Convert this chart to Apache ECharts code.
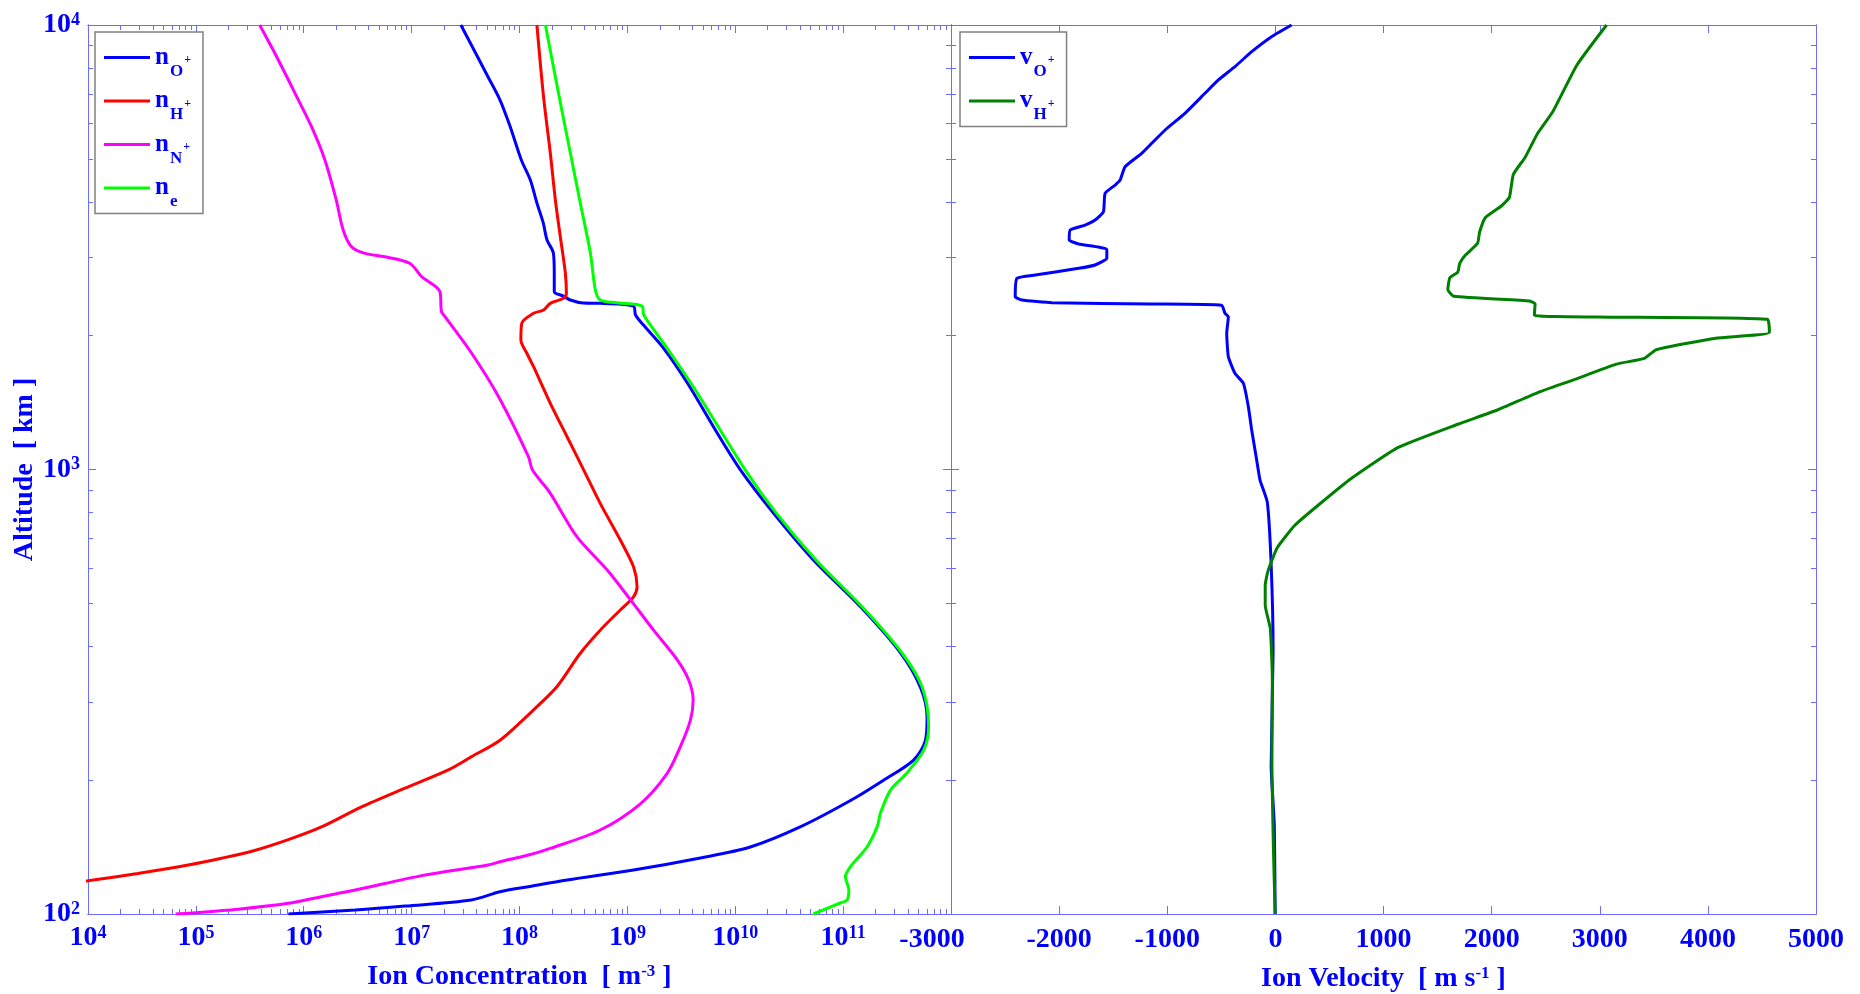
<!DOCTYPE html>
<html>
<head>
<meta charset="utf-8">
<script src="https://cdn.jsdelivr.net/npm/echarts/dist/echarts.min.js"></script>
<style>
  html, body { margin: 0; padding: 0; background: #ffffff; }
  #chart { width: 1860px; height: 994px; }
</style>
</head>
<body>
<div id="chart"></div>
<script>
// ---- Ion density profiles: [altitude km, concentration m^-3] ----
const nOplus = [
  [10000, 2.86e7], [7650, 5.1e7], [6780, 6.6e7], [5905, 8.2e7], [4970, 1.04e8], [4480, 1.26e8],
  [3978, 1.45e8], [3586, 1.66e8], [3283, 1.8e8], [3069, 2.06e8], [2767, 2.1e8], [2512, 2.1e8],
  [2457, 2.55e8], [2406, 2.96e8], [2369, 3.9e8], [2365, 5.6e8], [2332, 1.14e9], [2226, 1.19e9],
  [2113, 1.41e9], [1876, 2.16e9], [1565, 3.6e9], [1208, 6.8e9], [997, 1.12e10], [798, 2.26e10],
  [626, 5.3e10], [491, 1.45e11], [387, 3.4e11], [324, 5.2e11], [277, 6.0e11], [246, 5.8e11],
  [222, 4.5e11], [200, 2.37e11], [180, 1.17e11], [157, 4.0e10], [141.5, 1.38e10], [133.7, 4.75e9],
  [125.6, 1.14e9], [119.3, 2.77e8], [115.2, 1.21e8], [112.2, 6.6e7], [107.5, 3.57e7],
  [104.2, 8.7e6], [102.1, 3.0e6], [100, 7.2e5]
];
const nHplus = [
  [10000, 1.45e8], [6898, 1.67e8], [5152, 1.93e8], [4040, 2.15e8], [3340, 2.39e8], [2767, 2.66e8],
  [2491, 2.72e8], [2427, 2.56e8], [2365, 1.93e8], [2285, 1.67e8], [2246, 1.35e8], [2133, 1.05e8],
  [1956, 1.03e8], [1826, 1.17e8], [1703, 1.35e8], [1409, 1.93e8], [1185, 2.76e8], [997, 3.94e8],
  [839, 5.6e8], [694, 8.6e8], [604, 1.14e9], [545, 1.23e9], [517, 1.14e9], [483, 8.6e8],
  [435, 5.6e8], [386, 3.66e8], [325, 2.23e8], [288, 1.35e8], [246, 6.6e7], [226, 3.6e7],
  [211, 2.19e7], [192, 8.7e6], [174, 3.4e6], [157, 1.46e6], [147, 7.2e5], [139, 3.5e5],
  [133.5, 1.73e5], [128.9, 8.5e4], [123.4, 2.9e4], [118.8, 1.0e4], [117, 6.0e3]
];
const nNplus = [
  [10000, 3.9e5], [8636, 5.4e5], [7020, 8.3e5], [5905, 1.18e6], [4970, 1.57e6], [4040, 2.0e6],
  [3458, 2.32e6], [3171, 2.77e6], [3064, 3.7e6], [3010, 5.65e6], [2910, 9.6e6], [2715, 1.24e7],
  [2512, 1.83e7], [2265, 1.89e7], [2207, 2.04e7], [1826, 3.6e7], [1458, 6.4e7], [1069, 1.21e8],
  [997, 1.32e8], [884, 1.93e8], [706, 3.4e8], [594, 6.5e8], [509, 1.07e9], [435, 1.75e9],
  [373, 2.9e9], [336, 3.7e9], [303, 4.07e9], [273, 3.84e9], [238, 3.1e9], [207, 2.33e9],
  [177, 1.32e9], [154.5, 5.6e8], [140.5, 1.93e8], [135.7, 1.21e8], [131.1, 6.6e7], [128.9, 5.1e7],
  [122, 1.24e7], [113.2, 3.0e6], [109.4, 1.46e6], [105.7, 7.2e5], [102.5, 2.46e5],
  [100.4, 8.5e4], [100, 6.5e4]
];
const nElec = [
  [10000, 1.74e8], [7020, 2.3e8], [5152, 2.96e8], [3978, 3.66e8], [3069, 4.54e8], [2534, 5.05e8],
  [2406, 5.6e8], [2373, 8.0e8], [2332, 1.37e9], [2226, 1.42e9], [1876, 2.33e9], [1533, 4.1e9],
  [997, 1.24e10], [798, 2.4e10], [626, 5.6e10], [491, 1.5e11], [387, 3.5e11], [324, 5.4e11],
  [264, 6.2e11], [234, 5.6e11], [207.6, 3.9e11], [190, 2.75e11], [168.7, 2.22e11],
  [157.2, 2.07e11], [141.7, 1.67e11], [127.8, 1.17e11], [121.3, 1.05e11], [113.2, 1.13e11],
  [107.5, 1.09e11], [106, 9.5e10], [100, 5.3e10]
];

// ---- Ion velocity profiles: [altitude km, velocity m/s] ----
const vOplus = [
  [10000, 150], [9412, -35], [8709, -219], [8058, -374], [7522, -527], [7020, -651], [6328, -836],
  [5805, -1020], [5418, -1143], [5145, -1236], [4800, -1390], [4480, -1436], [4365, -1482],
  [4182, -1575], [3802, -1590], [3641, -1667], [3548, -1759], [3458, -1898], [3283, -1907],
  [3216, -1820], [3129, -1559], [2987, -1559], [2885, -1667], [2835, -1820], [2739, -2221],
  [2693, -2390], [2448, -2406], [2406, -2344], [2373, -2067], [2357, -1143], [2341, -497],
  [2246, -466], [2207, -435], [2025, -450], [1794, -435], [1646, -374], [1563, -296],
  [1385, -250], [1227, -219], [1051, -173], [947, -142], [845, -75], [610, -39], [391, -21],
  [215, -39], [159, -10], [100, -2]
];
const vHplus = [
  [10000, 3063], [8121, 2788], [6398, 2568], [5679, 2421], [5043, 2311], [4612, 2201],
  [4094, 2164], [3916, 2090], [3689, 1943], [3423, 1889], [3227, 1870], [3040, 1760],
  [2907, 1705], [2781, 1687], [2698, 1613], [2542, 1595], [2453, 1650], [2395, 2347],
  [2360, 2402], [2224, 2395], [2203, 2971], [2177, 4550], [2033, 4569], [1974, 4073],
  [1860, 3522], [1778, 3411], [1726, 3155], [1589, 2751], [1488, 2421], [1361, 2053],
  [1264, 1687], [1121, 1136], [952, 695], [833, 401], [750, 182], [666, 16], [591, -68],
  [549, -94], [495, -94], [439, -47], [336, -28], [215, -32], [137, -17], [100, -2]
];

// ---- Axis ticks ----
const concDecades = [1e4, 1e5, 1e6, 1e7, 1e8, 1e9, 1e10, 1e11, 1e12];
const concLabelValues = [1e4, 1e5, 1e6, 1e7, 1e8, 1e9, 1e10, 1e11];
const altDecades = [100, 1000, 10000];
const velTicks = [-3000, -2000, -1000, 0, 1000, 2000, 3000, 4000, 5000];

// 2..9 times each decade
function minorLogTicks(decades) {
  const out = [];
  for (let i = 0; i < decades.length - 1; i++) {
    for (let m = 2; m <= 9; m++) out.push(m * decades[i]);
  }
  return out;
}
const concMinor = minorLogTicks(concDecades);
const altMinor = minorLogTicks(altDecades);

const FONT = 'Liberation Serif';
const TEXT_BLUE = '#0000ff';
const AXIS_BLUE = '#6b6bff';

const expRich = {
  b: { fontFamily: FONT, fontWeight: 'bold', fontSize: 28, color: TEXT_BLUE, lineHeight: 28,
       verticalAlign: 'bottom', padding: [5, 0, 0, 0] },
  s: { fontFamily: FONT, fontWeight: 'bold', fontSize: 18, color: TEXT_BLUE, lineHeight: 18,
       verticalAlign: 'top' }
};
function expLabel(v) {
  return '{b|10}{s|' + Math.round(Math.log10(v)) + '}';
}

function axisBase(extra) {
  const base = {
    gridIndex: 0,
    silent: true,
    axisLine: { show: true, onZero: false, lineStyle: { color: AXIS_BLUE, width: 1 } },
    axisTick: { show: true, inside: true, length: 8, lineStyle: { color: AXIS_BLUE, width: 1 } },
    axisLabel: { show: false },
    splitLine: { show: false },
    minorTick: { show: false }
  };
  return Object.assign(base, extra);
}
function logAxis(range, grid, position, ticks, len, label, name) {
  return axisBase({
    type: 'log', logBase: 10, min: range[0], max: range[1], gridIndex: grid, position: position,
    axisTick: { show: true, inside: true, length: len, customValues: ticks,
                lineStyle: { color: AXIS_BLUE, width: 1 } },
    axisLabel: label || { show: false },
    name: name ? name.text : '', nameLocation: 'middle', nameGap: name ? name.gap : 0,
    nameTextStyle: name ? name.style : {}
  });
}
const CONC_RANGE = [1e4, 1e12];
const ALT_RANGE = [100, 10000];

const titleRich = {
  t: { fontFamily: FONT, fontWeight: 'bold', fontSize: 28, color: TEXT_BLUE, lineHeight: 28,
       verticalAlign: 'bottom', padding: [6, 0, 0, 0] },
  s: { fontFamily: FONT, fontWeight: 'bold', fontSize: 17, color: TEXT_BLUE, lineHeight: 17,
       verticalAlign: 'top' }
};

const velLabelRich = {
  n: { fontFamily: FONT, fontWeight: 'bold', fontSize: 28, lineHeight: 28, color: TEXT_BLUE },
  L: { fontFamily: FONT, fontWeight: 'bold', fontSize: 28, lineHeight: 28, color: TEXT_BLUE,
       padding: [0, 38, 0, 0] }
};

const xAxes = [
  // concentration panel
  logAxis(CONC_RANGE, 0, 'bottom', concDecades, 8,
    { show: true, customValues: concLabelValues, margin: 10, formatter: expLabel, rich: expRich,
      fontFamily: FONT, fontWeight: 'bold', color: TEXT_BLUE },
    { text: '{t|Ion Concentration  [ m}{s|-3}{t| ]}', gap: 49,
      style: { fontFamily: FONT, fontWeight: 'bold', color: TEXT_BLUE, rich: titleRich } }),
  logAxis(CONC_RANGE, 0, 'bottom', concMinor, 5),
  logAxis(CONC_RANGE, 0, 'top', concDecades, 8),
  logAxis(CONC_RANGE, 0, 'top', concMinor, 5),
  // velocity panel
  axisBase({
    type: 'value', min: -3000, max: 5000, interval: 1000, gridIndex: 1, position: 'bottom',
    axisLabel: {
      show: true, margin: 12, customValues: velTicks,
      fontFamily: FONT, fontWeight: 'bold', fontSize: 28, color: TEXT_BLUE,
      formatter: v => (v === -3000 ? '{L|' + v + '}' : '{n|' + v + '}'),
      rich: velLabelRich
    },
    name: '{t|Ion Velocity  [ m s}{s|-1}{t| ]}', nameLocation: 'middle', nameGap: 49,
    nameTextStyle: { fontFamily: FONT, fontWeight: 'bold', color: TEXT_BLUE, rich: titleRich }
  }),
  axisBase({
    type: 'value', min: -3000, max: 5000, interval: 1000, gridIndex: 1, position: 'top'
  })
];

const yAxes = [
  logAxis(ALT_RANGE, 0, 'left', altDecades, 8,
    { show: true, customValues: altDecades, margin: 8, formatter: expLabel, rich: expRich,
      fontFamily: FONT, fontWeight: 'bold', color: TEXT_BLUE },
    { text: 'Altitude  [ km ]', gap: 38,
      style: { fontFamily: FONT, fontWeight: 'bold', fontSize: 28, color: TEXT_BLUE } }),
  logAxis(ALT_RANGE, 0, 'left', altMinor, 5),
  logAxis(ALT_RANGE, 0, 'right', altDecades, 8),
  logAxis(ALT_RANGE, 0, 'right', altMinor, 5),
  logAxis(ALT_RANGE, 1, 'left', altDecades, 8),
  logAxis(ALT_RANGE, 1, 'left', altMinor, 5),
  logAxis(ALT_RANGE, 1, 'right', altDecades, 8),
  logAxis(ALT_RANGE, 1, 'right', altMinor, 5)
];

// legend text pieces: main letter, subscript, superscript
const legendParts = {
  'nO+': ['n', 'O', '+'], 'nH+': ['n', 'H', '+'], 'nN+': ['n', 'N', '+'], 'ne': ['n', 'e', ''],
  'vO+': ['v', 'O', '+'], 'vH+': ['v', 'H', '+']
};
function legendLabel(name) {
  const p = legendParts[name];
  return '{m|' + p[0] + '}{sb|' + p[1] + '}' + (p[2] ? '{sp|' + p[2] + '}' : '');
}
const legendRich = {
  m: { fontFamily: FONT, fontWeight: 'bold', fontSize: 25, lineHeight: 25, color: TEXT_BLUE,
       verticalAlign: 'top' },
  sb: { fontFamily: FONT, fontWeight: 'bold', fontSize: 17, lineHeight: 17, color: TEXT_BLUE,
        verticalAlign: 'top', padding: [18, 0, 0, 1] },
  sp: { fontFamily: FONT, fontWeight: 'bold', fontSize: 12, lineHeight: 12, color: TEXT_BLUE,
        verticalAlign: 'top', padding: [9, 0, 0, 1] }
};
function makeLegend(left, names) {
  return {
    show: true, orient: 'vertical', left: left, top: 32, data: names,
    icon: 'rect', itemWidth: 46, itemHeight: 3, itemGap: 8.5, padding: [13, 12, 3, 9],
    backgroundColor: '#ffffff', borderColor: '#808080', borderWidth: 1.5, borderRadius: 0,
    selectedMode: false,
    formatter: legendLabel,
    textStyle: { fontFamily: FONT, fontWeight: 'bold', color: TEXT_BLUE, rich: legendRich }
  };
}

function profileSeries(name, pairs, color, xi, yi, smooth) {
  return {
    name: name, type: 'line', xAxisIndex: xi, yAxisIndex: yi,
    data: pairs.map(p => [p[1], p[0]]),
    showSymbol: false, symbol: 'none', clip: true, silent: true, animation: false,
    smooth: smooth,
    lineStyle: { color: color, width: 3 }, itemStyle: { color: color }
  };
}

const chart = echarts.init(document.getElementById('chart'), null, { renderer: 'canvas' });
chart.setOption({
  backgroundColor: '#ffffff',
  animation: false,
  grid: [
    { left: 88, top: 25, width: 863, height: 889, outerBoundsMode: 'none', containLabel: false },
    { left: 951, top: 25, width: 865, height: 889, outerBoundsMode: 'none', containLabel: false }
  ],
  legend: [
    makeLegend(95, ['nO+', 'nH+', 'nN+', 'ne']),
    makeLegend(960, ['vO+', 'vH+'])
  ],
  xAxis: xAxes,
  yAxis: yAxes,
  series: [
    profileSeries('nO+', nOplus, '#0000ff', 0, 0, 0.3),
    profileSeries('nH+', nHplus, '#ff0000', 0, 0, 0.3),
    profileSeries('nN+', nNplus, '#ff00ff', 0, 0, 0.3),
    profileSeries('ne', nElec, '#00ff00', 0, 0, 0.3),
    profileSeries('vO+', vOplus, '#0000ff', 4, 4, 0.15),
    profileSeries('vH+', vHplus, '#008000', 4, 4, 0.15)
  ]
});
</script>
</body>
</html>
